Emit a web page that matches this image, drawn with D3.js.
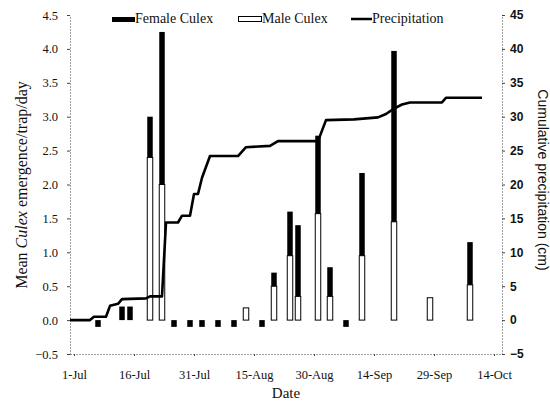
<!DOCTYPE html>
<html>
<head>
<meta charset="utf-8">
<script src="https://cdn.jsdelivr.net/npm/d3@7"></script>
<style>
  body { margin: 0; background: #fff; }
  svg { display: block; }
</style>
</head>
<body>
<div id="chart"></div>
<script>
// Sampling dates with emergence (stacked: male bottom, female top)
const sampleDates = ["13-Jul", "15-Jul", "20-Jul", "23-Jul", "13-Aug", "20-Aug", "24-Aug",
                     "26-Aug", "31-Aug", "3-Sep", "11-Sep", "19-Sep", "28-Sep", "8-Oct"];
const maleCulex   = [0, 0, 2.4, 2.0, 0.18, 0.5, 0.95, 0.35, 1.57, 0.35, 0.95, 1.45, 0.33, 0.52];
const femaleCulex = [0.2, 0.2, 0.6, 2.25, 0, 0.2, 0.65, 1.05, 1.15, 0.43, 1.22, 2.52, 0, 0.63];

// Sampling dates with no emergence (drawn as small marks below zero)
const zeroDates = ["7-Jul", "26-Jul", "30-Jul", "2-Aug", "6-Aug", "10-Aug", "17-Aug", "7-Sep"];
const zeroMark = -0.1;

// Cumulative precipitation (cm)
const precipDates = ["30-Jun", "5-Jul", "6-Jul", "9-Jul", "10-Jul", "12-Jul", "13-Jul", "19-Jul",
                     "20-Jul", "23-Jul", "24-Jul", "27-Jul", "28-Jul", "30-Jul", "31-Jul", "1-Aug",
                     "2-Aug", "4-Aug", "11-Aug", "13-Aug", "19-Aug", "21-Aug", "31-Aug", "2-Sep",
                     "9-Sep", "15-Sep", "17-Sep", "19-Sep", "21-Sep", "23-Sep", "1-Oct", "2-Oct", "11-Oct"];
const precipCm    = [0, 0, 0.5, 0.5, 2.1, 2.4, 3.1, 3.2,
                     3.5, 3.5, 14.4, 14.4, 15.4, 15.4, 18.6, 18.6,
                     21.0, 24.2, 24.2, 25.5, 25.7, 26.4, 26.4, 29.5,
                     29.6, 29.9, 30.4, 31.2, 31.8, 32.1, 32.1, 32.8, 32.8];

// Axis ticks
const dateTicks = ["1-Jul", "16-Jul", "31-Jul", "15-Aug", "30-Aug", "14-Sep", "29-Sep", "14-Oct"];
const leftTicks = [-0.5, 0, 0.5, 1, 1.5, 2, 2.5, 3, 3.5, 4, 4.5];
const rightTicks = [-5, 0, 5, 10, 15, 20, 25, 30, 35, 40, 45];

const parseDate = s => d3.timeParse("%d-%b %Y")(s + " 2003");

let W = 550, H = 405;
let margin = {top: 15, right: 48, bottom: 51, left: 70};
let width = W - margin.left - margin.right;
let height = H - margin.top - margin.bottom;

let svg = d3.select("#chart").append("svg")
    .attr("width", W).attr("height", H)
    .style("font-family", "'Liberation Serif', 'Times New Roman', serif");

let g = svg.append("g").attr("transform", "translate(" + margin.left + "," + margin.top + ")");

let x = d3.scaleTime().domain([parseDate("30-Jun"), parseDate("16-Oct")]).range([0, width]);
let yL = d3.scaleLinear().domain([-0.5, 4.5]).range([height, 0]);
let yR = d3.scaleLinear().domain([-5, 45]).range([height, 0]);

let barW = 5.5;

// Axes
function styleAxis(sel) {
    sel.attr("font-family", null);
    sel.select(".domain").attr("stroke", "#444").attr("stroke-dasharray", "1,2");
    sel.selectAll(".tick line").attr("stroke", "#444");
}

g.append("g")
    .attr("transform", "translate(0," + height + ")")
    .call(d3.axisBottom(x).tickValues(dateTicks.map(parseDate))
          .tickFormat(d3.timeFormat("%-d-%b")).tickSize(2).tickPadding(14).tickSizeOuter(0))
    .call(styleAxis)
    .selectAll("text").attr("font-size", "12.5px").attr("fill", "#111")
    .style("font-family", "'Liberation Serif', serif");

g.append("g")
    .call(d3.axisLeft(yL).tickValues(leftTicks).tickFormat(d3.format(".1f"))
          .tickSize(3).tickPadding(9).tickSizeOuter(0))
    .call(styleAxis)
    .selectAll("text").attr("font-size", "12.5px").attr("fill", "#111")
    .style("font-family", "'Liberation Serif', serif");

g.append("g")
    .attr("transform", "translate(" + width + ",0)")
    .call(d3.axisRight(yR).tickValues(rightTicks).tickSize(3).tickPadding(5).tickSizeOuter(0))
    .call(styleAxis)
    .selectAll("text").attr("font-size", "12px").attr("font-weight", "bold").attr("fill", "#111")
    .style("font-family", "'Liberation Sans', Arial, sans-serif");

// Bars
let bars = sampleDates.map((d, i) => ({date: parseDate(d), male: maleCulex[i], female: femaleCulex[i]}));

g.selectAll(".male").data(bars.filter(d => d.male > 0)).enter().append("rect")
    .attr("class", "male")
    .attr("x", d => x(d.date) - barW / 2)
    .attr("y", d => yL(d.male))
    .attr("width", barW)
    .attr("height", d => yL(0) - yL(d.male))
    .attr("fill", "#fff").attr("stroke", "#000").attr("stroke-width", 1);

g.selectAll(".female").data(bars.filter(d => d.female > 0)).enter().append("rect")
    .attr("class", "female")
    .attr("x", d => x(d.date) - barW / 2)
    .attr("y", d => yL(d.male + d.female))
    .attr("width", barW)
    .attr("height", d => yL(d.male) - yL(d.male + d.female))
    .attr("fill", "#000");

g.selectAll(".zero").data(zeroDates.map(parseDate)).enter().append("rect")
    .attr("class", "zero")
    .attr("x", d => x(d) - barW / 2)
    .attr("y", yL(0))
    .attr("width", barW)
    .attr("height", yL(zeroMark) - yL(0))
    .attr("fill", "#000");

// Precipitation line
let precip = precipDates.map((d, i) => ({date: parseDate(d), v: precipCm[i]}));
g.append("path")
    .datum(precip)
    .attr("fill", "none").attr("stroke", "#000").attr("stroke-width", 2.6)
    .attr("stroke-linejoin", "round")
    .attr("d", d3.line().x(d => x(d.date)).y(d => yR(d.v)));

// Legend
let lg = svg.append("g").attr("font-size", "14px").attr("fill", "#111");
lg.append("rect").attr("x", 112).attr("y", 17).attr("width", 23).attr("height", 5).attr("fill", "#000");
lg.append("text").attr("x", 135).attr("y", 23).text("Female Culex");
lg.append("rect").attr("x", 238.5).attr("y", 16.5).attr("width", 23).attr("height", 5)
    .attr("fill", "#fff").attr("stroke", "#000");
lg.append("text").attr("x", 262).attr("y", 23).text("Male Culex");
lg.append("line").attr("x1", 351).attr("x2", 372).attr("y1", 19).attr("y2", 19)
    .attr("stroke", "#000").attr("stroke-width", 2.5);
lg.append("text").attr("x", 372).attr("y", 23).text("Precipitation");

// Axis titles
let yt = svg.append("text")
    .attr("transform", "translate(27,185) rotate(-90)")
    .attr("text-anchor", "middle").attr("font-size", "16px").attr("fill", "#111");
yt.append("tspan").text("Mean ");
yt.append("tspan").attr("font-style", "italic").text("Culex");
yt.append("tspan").text(" emergence/trap/day");

svg.append("text")
    .attr("transform", "translate(538,180) rotate(90)")
    .attr("text-anchor", "middle").attr("font-size", "14px").attr("fill", "#111")
    .style("font-family", "'Liberation Sans', Arial, sans-serif")
    .text("Cumulative precipitation (cm)");

svg.append("text")
    .attr("x", 286).attr("y", 398)
    .attr("text-anchor", "middle").attr("font-size", "15px").attr("fill", "#111")
    .text("Date");
</script>
</body>
</html>
